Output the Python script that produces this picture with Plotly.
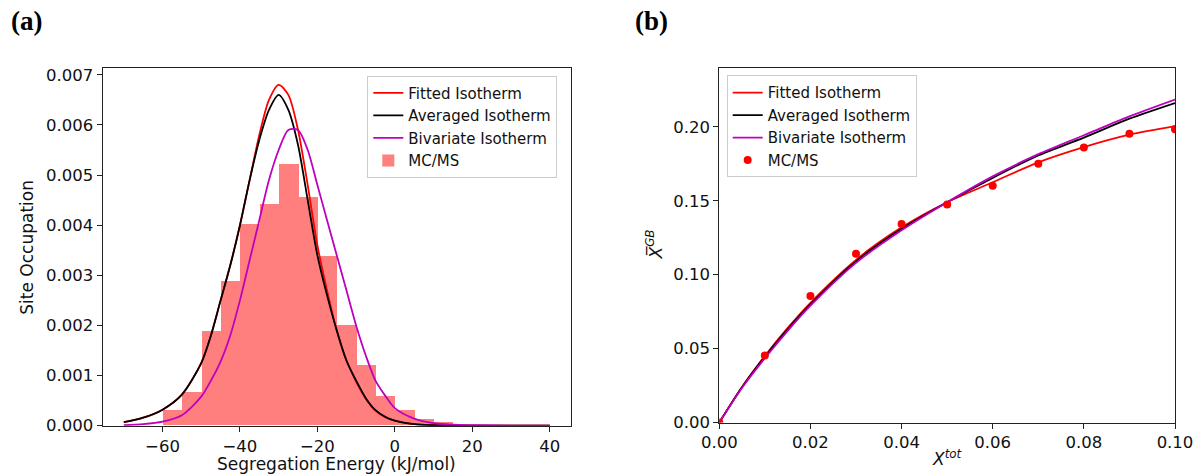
import plotly.graph_objects as go

# ---------------- Panel (a) data ----------------
hist_left_edges = [-60, -55, -50, -45, -40, -35, -30, -25, -20, -15, -10, -5, 0, 5, 10]
hist_bin_width = 5
hist_heights = [0.00031, 0.00066, 0.00189, 0.00289, 0.00401, 0.00442, 0.00521, 0.00456,
                0.00338, 0.00200, 0.00121, 0.00059, 0.00031, 0.00013, 0.00007]

energy_a = [-70, -65, -60, -55, -50, -47.5, -45, -42.5, -40, -37.5, -35, -32.5, -30, -27.5,
            -25, -22.5, -20, -17.5, -15, -12.5, -10, -7.5, -5, -2.5, 0, 5, 10, 15, 20, 30, 40]
fitted_a = [0.00007, 0.00016, 0.00032, 0.00062, 0.00125, 0.0018, 0.0025, 0.0032, 0.0040, 0.0049,
            0.0058, 0.0065, 0.0068, 0.0066, 0.0059, 0.0048, 0.0036, 0.0027, 0.0019, 0.0013,
            0.00088, 0.00054, 0.00030, 0.00017, 0.00010, 0.00003, 0.00001, 0.0, 0.0, 0.0, 0.0]
averaged_a = [0.00007, 0.00016, 0.00032, 0.00062, 0.00125, 0.0018, 0.0025, 0.0032, 0.0040, 0.0049,
              0.0057, 0.0063, 0.0066, 0.0063, 0.0056, 0.0045, 0.0034, 0.0026, 0.0019, 0.0013,
              0.0009, 0.00055, 0.00031, 0.00018, 0.00010, 0.00003, 0.00001, 0.0, 0.0, 0.0, 0.0]
bivariate_a = [0.00001, 0.00003, 0.00008, 0.00021, 0.00058, 0.0009, 0.00128, 0.0018, 0.0025, 0.0033,
               0.0041, 0.0049, 0.0055, 0.0059, 0.0059, 0.0055, 0.0048, 0.0041, 0.0034, 0.0027,
               0.0020, 0.0014, 0.0009, 0.0006, 0.00035, 0.00014, 0.00005, 0.00002, 0.00001, 0.0, 0.0]

# ---------------- Panel (b) data ----------------
xtot_curve = [0, 0.005, 0.01, 0.015, 0.02, 0.03, 0.04, 0.05, 0.06, 0.07, 0.08, 0.09, 0.10]
fitted_b = [0, 0.024, 0.045, 0.064, 0.081, 0.110, 0.132, 0.149, 0.1625, 0.176, 0.1863, 0.1947, 0.2005]
averaged_b = [0, 0.024, 0.0445, 0.063, 0.080, 0.109, 0.131, 0.149, 0.1655, 0.1807, 0.1927, 0.2055, 0.2161]
bivariate_b = [0, 0.0235, 0.0435, 0.062, 0.079, 0.108, 0.130, 0.149, 0.1665, 0.1815, 0.1943, 0.2071, 0.2185]

xtot_mc = [0.0, 0.01, 0.02, 0.03, 0.04, 0.05, 0.06, 0.07, 0.08, 0.09, 0.10]
xgb_mc = [0.0, 0.0453, 0.0855, 0.1141, 0.1342, 0.1475, 0.1601, 0.1751, 0.1860, 0.1954, 0.1983]

# ---------------- styling ----------------
RED = "#ff0000"
BLACK = "#000000"
MAGENTA = "#bf00bf"
HIST = "#ff7f7f"
FONT = "DejaVu Sans"
W, H = 1200, 476

fig = go.Figure()

hist_centers = [e + hist_bin_width / 2 for e in hist_left_edges]
fig.add_trace(go.Bar(x=hist_centers, y=hist_heights, width=[hist_bin_width] * len(hist_heights),
                     marker=dict(color=HIST, line=dict(width=0)), name="MC/MS",
                     xaxis="x", yaxis="y", legend="legend", legendrank=4))
fig.add_trace(go.Scatter(x=energy_a, y=fitted_a, mode="lines", name="Fitted Isotherm",
                         line=dict(color=RED, width=1.8, shape="spline", smoothing=0.8),
                         xaxis="x", yaxis="y", legend="legend", legendrank=1))
fig.add_trace(go.Scatter(x=energy_a, y=averaged_a, mode="lines", name="Averaged Isotherm",
                         line=dict(color=BLACK, width=1.8, shape="spline", smoothing=0.8),
                         xaxis="x", yaxis="y", legend="legend", legendrank=2))
fig.add_trace(go.Scatter(x=energy_a, y=bivariate_a, mode="lines", name="Bivariate Isotherm",
                         line=dict(color=MAGENTA, width=1.8, shape="spline", smoothing=0.8),
                         xaxis="x", yaxis="y", legend="legend", legendrank=3))

fig.add_trace(go.Scatter(x=xtot_curve, y=fitted_b, mode="lines", name="Fitted Isotherm",
                         line=dict(color=RED, width=1.8, shape="spline", smoothing=0.8),
                         xaxis="x2", yaxis="y2", legend="legend2", legendrank=1))
fig.add_trace(go.Scatter(x=xtot_curve, y=averaged_b, mode="lines", name="Averaged Isotherm",
                         line=dict(color=BLACK, width=1.8, shape="spline", smoothing=0.8),
                         xaxis="x2", yaxis="y2", legend="legend2", legendrank=2))
fig.add_trace(go.Scatter(x=xtot_curve, y=bivariate_b, mode="lines", name="Bivariate Isotherm",
                         line=dict(color=MAGENTA, width=1.8, shape="spline", smoothing=0.8),
                         xaxis="x2", yaxis="y2", legend="legend2", legendrank=3))
fig.add_trace(go.Scatter(x=xtot_mc, y=xgb_mc, mode="markers", name="MC/MS",
                         marker=dict(color=RED, size=8, line=dict(width=0)),
                         xaxis="x2", yaxis="y2", legend="legend2", legendrank=4))

axis_common = dict(showline=True, linecolor="#222222", linewidth=1, mirror=True,
                   ticks="outside", ticklen=5, tickwidth=1, tickcolor="#222222",
                   showgrid=False, zeroline=False, automargin=False,
                   tickfont=dict(family=FONT, size=16.5, color="#111111"))

fig.update_layout(
    template="none",
    width=W, height=H,
    margin=dict(l=0, r=0, t=0, b=0, autoexpand=False),
    paper_bgcolor="white", plot_bgcolor="white",
    showlegend=True,
    bargap=0,
    xaxis=dict(domain=[102.5 / W, 571 / W], range=[-75.5, 45.5], tickvals=[-60, -40, -20, 0, 20, 40],
               anchor="y", **axis_common),
    yaxis=dict(domain=[1 - 425.7 / H, 1 - 68.3 / H], range=[0, 0.00713],
               tickvals=[0, 0.001, 0.002, 0.003, 0.004, 0.005, 0.006, 0.007],
               tickformat=".3f", anchor="x", **axis_common),
    xaxis2=dict(domain=[719.3 / W, 1175 / W], range=[0, 0.1],
                tickvals=[0, 0.02, 0.04, 0.06, 0.08, 0.10], tickformat=".2f",
                anchor="y2", **axis_common),
    yaxis2=dict(domain=[1 - 422.5 / H, 1 - 67.7 / H], range=[0, 0.24],
                tickvals=[0, 0.05, 0.10, 0.15, 0.20], tickformat=".2f", anchor="x2", **axis_common),
    legend=dict(x=367.3 / W, y=1 - 75.7 / H, xanchor="left", yanchor="top",
                bgcolor="rgba(255,255,255,0.8)", bordercolor="#cccccc", borderwidth=1,
                font=dict(family=FONT, size=15, color="#111111"), traceorder="normal"),
    legend2=dict(x=726.7 / W, y=1 - 75.3 / H, xanchor="left", yanchor="top",
                 bgcolor="rgba(255,255,255,0.8)", bordercolor="#cccccc", borderwidth=1,
                 font=dict(family=FONT, size=15, color="#111111"), traceorder="normal"),
)

annotations = [
    dict(text="Segregation Energy (kJ/mol)", x=336.8 / W, y=1 - 464 / H, xref="paper", yref="paper",
         xanchor="center", yanchor="middle", showarrow=False,
         font=dict(family=FONT, size=17, color="#111111")),
    dict(text="Site Occupation", x=26.7 / W, y=1 - 247 / H, xref="paper", yref="paper",
         xanchor="center", yanchor="middle", showarrow=False, textangle=-90,
         font=dict(family=FONT, size=17, color="#111111")),
    dict(text="<i>X</i><sup><i>tot</i></sup>", x=947 / W, y=1 - 458 / H, xref="paper", yref="paper",
         xanchor="center", yanchor="middle", showarrow=False,
         font=dict(family=FONT, size=17, color="#111111")),
    dict(text="<i>X\u0305</i><sup><i>GB</i></sup>", x=654.5 / W, y=1 - 245 / H, xref="paper", yref="paper",
         xanchor="center", yanchor="middle", showarrow=False, textangle=-90,
         font=dict(family=FONT, size=17, color="#111111")),
    dict(text="<b>(a)</b>", x=26.5 / W, y=1 - 21 / H, xref="paper", yref="paper",
         xanchor="center", yanchor="middle", showarrow=False,
         font=dict(family="Liberation Serif", size=27, color="#000000")),
    dict(text="<b>(b)</b>", x=651.5 / W, y=1 - 21 / H, xref="paper", yref="paper",
         xanchor="center", yanchor="middle", showarrow=False,
         font=dict(family="Liberation Serif", size=27, color="#000000")),
]
fig.update_layout(annotations=annotations)

fig.write_html("out.html")
